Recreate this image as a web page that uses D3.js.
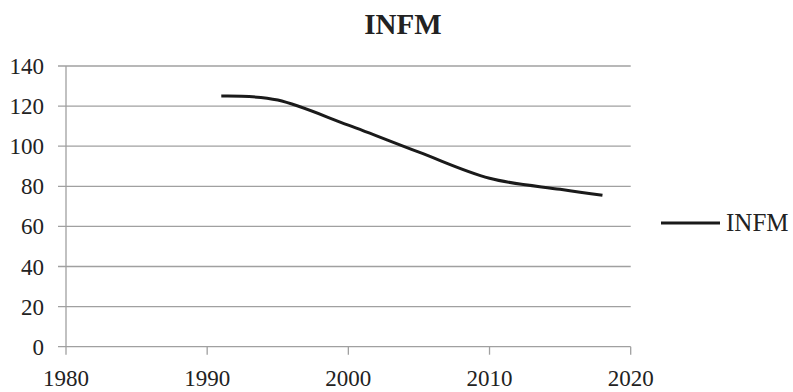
<!DOCTYPE html>
<html>
<head>
<meta charset="utf-8">
<script src="https://cdn.jsdelivr.net/npm/d3@7"></script>
<style>
  body { margin: 0; background: #fff; }
  text { font-family: "Liberation Serif", "Times New Roman", serif; fill: #222; }
</style>
</head>
<body>
<div id="chart"></div>
<script>
// INFM line chart, smoothed like the excel one
let years = [1991, 1995, 2000, 2005, 2010, 2015, 2018]
let infm = [125, 123, 110.5, 97, 84, 78.5, 75.5]
let xTicks = [1980, 1990, 2000, 2010, 2020]
let yTicks = [0, 20, 40, 60, 80, 100, 120, 140]
let seriesName = 'INFM'

let width = 793, height = 392
let svg = d3.select('#chart').append('svg')
    .attr('width', width)
    .attr('height', height)

let x = d3.scaleLinear().domain([1980, 2020]).range([66, 630.7])
let y = d3.scaleLinear().domain([0, 140]).range([346.7, 66])

// gridlines
svg.selectAll('.grid')
    .data(yTicks)
    .enter()
    .append('line')
    .attr('x1', 58).attr('x2', x(2020))
    .attr('y1', d => y(d)).attr('y2', d => y(d))
    .attr('stroke', '#a0a0a0')
    .attr('stroke-width', 1.3)

// y axis line
svg.append('line')
    .attr('x1', x(1980)).attr('x2', x(1980))
    .attr('y1', y(140)).attr('y2', y(0))
    .attr('stroke', '#a0a0a0').attr('stroke-width', 1.3)

// x ticks
svg.selectAll('.xtick')
    .data(xTicks)
    .enter()
    .append('line')
    .attr('x1', d => x(d)).attr('x2', d => x(d))
    .attr('y1', y(0)).attr('y2', y(0) + 8)
    .attr('stroke', '#a0a0a0').attr('stroke-width', 1.3)

svg.selectAll('.xlabel')
    .data(xTicks)
    .enter()
    .append('text')
    .attr('x', d => x(d))
    .attr('y', 386)
    .attr('text-anchor', 'middle')
    .attr('font-size', 23)
    .text(d => d)

svg.selectAll('.ylabel')
    .data(yTicks)
    .enter()
    .append('text')
    .attr('x', 44)
    .attr('y', d => y(d) + 8)
    .attr('text-anchor', 'end')
    .attr('font-size', 23)
    .text(d => d)

// the line itself
let line = d3.line()
    .x((d, i) => x(years[i]))
    .y(d => y(d))
    .curve(d3.curveCardinal.tension(0))

svg.append('path')
    .datum(infm)
    .attr('d', line)
    .attr('fill', 'none')
    .attr('stroke', '#1a1a1a')
    .attr('stroke-width', 3)

// title
svg.append('text')
    .attr('x', 403)
    .attr('y', 34)
    .attr('text-anchor', 'middle')
    .attr('font-size', 29)
    .attr('font-weight', 'bold')
    .text(seriesName)

// legend
svg.append('line')
    .attr('x1', 661).attr('x2', 720)
    .attr('y1', 223).attr('y2', 223)
    .attr('stroke', '#1a1a1a').attr('stroke-width', 3)

svg.append('text')
    .attr('x', 726)
    .attr('y', 231)
    .attr('font-size', 25)
    .text(seriesName)
</script>
</body>
</html>
